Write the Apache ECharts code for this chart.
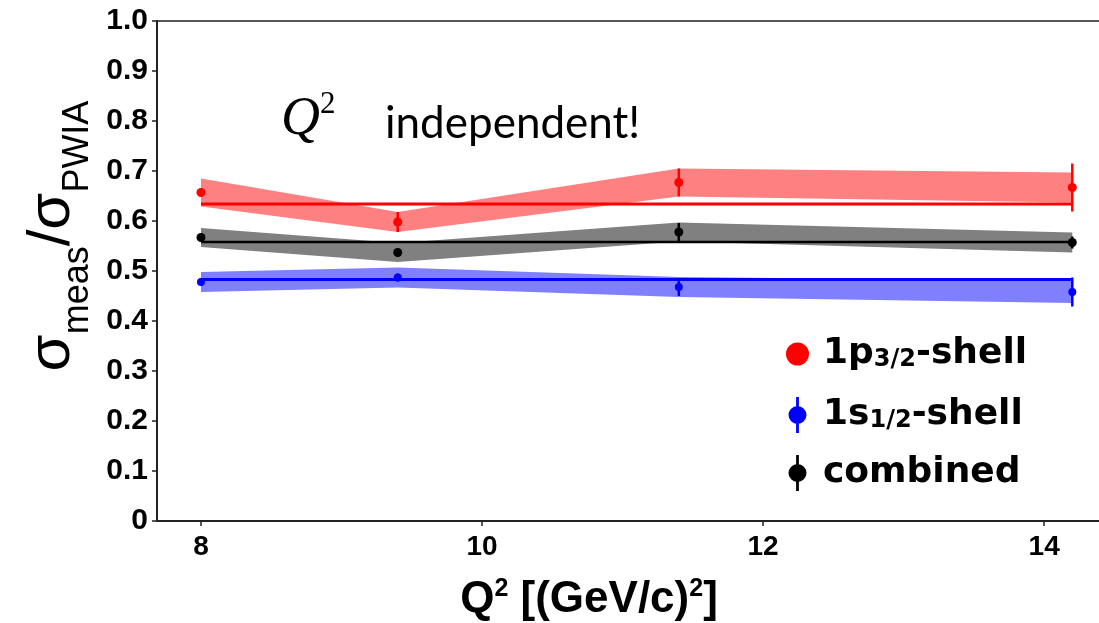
<!DOCTYPE html>
<html>
<head>
<meta charset="utf-8">
<script src="https://cdn.jsdelivr.net/npm/echarts@6/dist/echarts.min.js"></script>
<style>
  html, body { margin: 0; padding: 0; background: #fff; }
  #chart { width: 1099px; height: 623px; }
</style>
</head>
<body>
<div id="chart"></div>
<script>
// Q^2 settings, in (GeV/c)^2
const q2 = [8.0, 9.4, 11.4, 14.2];
const xTicks = [8, 10, 12, 14];
const yTicks = [0, 0.1, 0.2, 0.3, 0.4, 0.5, 0.6, 0.7, 0.8, 0.9, 1.0];

// sigma_meas / sigma_PWIA : value, statistical error, systematic half-band
const p32 = [0.657, 0.598, 0.677, 0.667];
const p32Stat = [0.008, 0.020, 0.028, 0.048];
const p32Sys = [0.028, 0.020, 0.028, 0.030];
const p32Avg = 0.634;

const s12 = [0.478, 0.487, 0.468, 0.458];
const s12Stat = [0.008, 0.008, 0.018, 0.029];
const s12Sys = [0.020, 0.020, 0.020, 0.022];
const s12Avg = 0.483;

const comb = [0.567, 0.537, 0.578, 0.557];
const combStat = [0.008, 0.008, 0.018, 0.012];
const combSys = [0.019, 0.019, 0.019, 0.020];
const combAvg = 0.558;

const names = ['1p3/2-shell', '1s1/2-shell', 'combined'];
const legendText = {
  '1p3/2-shell': '1p{sub|3/2}-shell',
  '1s1/2-shell': '1s{sub|1/2}-shell',
  'combined': 'combined'
};

const RED = '#ff0000', BLUE = '#0000ff', BLACK = '#000000';
const AXIS = '#222222';

// marker with a vertical error bar, used as a legend icon
const errIcon = 'path://M4.3,0H5.7V18H4.3Z M5,4.5A4.5,4.5,0,1,1,5,13.5A4.5,4.5,0,1,1,5,4.5Z';

function band(name, vals, sys, fill) {
  return {
    type: 'custom', name: name + ' sys', silent: true, z: 1,
    data: q2.map((x, i) => [x, vals[i] - sys[i], vals[i] + sys[i]]),
    renderItem: function (params, api) {
      if (params.dataIndex !== 0) return null;
      const top = q2.map((x, i) => api.coord([x, vals[i] + sys[i]]));
      const bot = q2.map((x, i) => api.coord([x, vals[i] - sys[i]])).reverse();
      return { type: 'polygon', shape: { points: top.concat(bot) }, style: { fill: fill } };
    }
  };
}

function fitLine(name, avg, color, width) {
  return {
    type: 'line', name: name + ' avg', silent: true, z: 2, symbol: 'none',
    data: [[q2[0], avg], [q2[q2.length - 1], avg]],
    lineStyle: { color: color, width: width }
  };
}

function errBars(name, vals, stat, color) {
  return {
    type: 'custom', name: name + ' stat', silent: true, z: 3,
    data: q2.map((x, i) => [x, vals[i] - stat[i], vals[i] + stat[i]]),
    renderItem: function (params, api) {
      const lo = api.coord([api.value(0), api.value(1)]);
      const hi = api.coord([api.value(0), api.value(2)]);
      return { type: 'line', shape: { x1: lo[0], y1: lo[1], x2: hi[0], y2: hi[1] },
               style: { stroke: color, lineWidth: 2.5 } };
    }
  };
}

function points(name, vals, color, size) {
  return {
    type: 'scatter', name: name, z: 4, symbol: 'circle', symbolSize: size,
    data: q2.map((x, i) => [x, vals[i]]),
    itemStyle: { color: color, opacity: 1 }
  };
}

const chart = echarts.init(document.getElementById('chart'), null, { renderer: 'canvas' });

const option = {
  animation: false,
  backgroundColor: '#ffffff',
  grid: { left: 157, right: 0, top: 21, bottom: 102, containLabel: false },
  xAxis: [{
    type: 'value', min: 7.687, max: 14.39,
    axisLine: { show: true, onZero: false, lineStyle: { color: AXIS, width: 2 } },
    axisTick: { show: true, customValues: xTicks, length: 5, lineStyle: { color: AXIS, width: 1.5 } },
    axisLabel: { customValues: xTicks, margin: 12, color: '#000', fontFamily: 'Liberation Sans',
                 fontWeight: 'bold', fontSize: 28 },
    splitLine: { show: false }
  }, {
    type: 'value', position: 'top', min: 7.687, max: 14.39,
    axisLine: { show: true, onZero: false, lineStyle: { color: AXIS, width: 1.5 } },
    axisTick: { show: false }, axisLabel: { show: false }, splitLine: { show: false }
  }],
  yAxis: {
    type: 'value', min: 0, max: 1, interval: 0.1,
    axisLine: { show: true, onZero: false, lineStyle: { color: AXIS, width: 2 } },
    axisTick: { show: true, length: 5, lineStyle: { color: AXIS, width: 1.5 } },
    axisLabel: {
      margin: 9, color: '#000', fontFamily: 'Liberation Sans', fontWeight: 'bold', fontSize: 30,
      customValues: yTicks,
      formatter: v => (v === 0 ? '0' : v.toFixed(1))
    },
    splitLine: { show: false }
  },
  legend: {
    orient: 'vertical', left: 781, top: 328, itemGap: 22, itemWidth: 23, itemHeight: 36,
    selectedMode: false,
    data: [
      { name: names[0], icon: 'circle' },
      { name: names[1], icon: errIcon },
      { name: names[2], icon: errIcon }
    ],
    formatter: n => legendText[n],
    textStyle: {
      color: '#000', fontFamily: 'DejaVu Sans', fontWeight: 'bold', fontSize: 36, lineHeight: 36,
      padding: [0, 0, 0, 9],
      rich: { sub: { fontFamily: 'DejaVu Sans', fontWeight: 'bold', fontSize: 24, color: '#000',
                     verticalAlign: 'bottom', lineHeight: 36, padding: [15, 0, 0, 0] } }
    }
  },
  graphic: [
    {
      type: 'text', x: 589, y: 600,
      style: {
        text: '{b|Q}{sup|2}{b| [(GeV/c)}{sup|2}{b|]}',
        align: 'center', verticalAlign: 'middle',
        rich: {
          b: { fontFamily: 'Liberation Sans', fontWeight: 'bold', fontSize: 44, fill: '#000', lineHeight: 46 },
          sup: { fontFamily: 'Liberation Sans', fontWeight: 'bold', fontSize: 25, fill: '#000',
                 verticalAlign: 'top', lineHeight: 46, padding: [0, 0, 16, 0] }
        }
      }
    },
    {
      type: 'text', x: 60, y: 236, rotation: Math.PI / 2,
      style: {
        text: '{m|σ}{s|meas}{m|/σ}{s|PWIA}',
        align: 'center', verticalAlign: 'middle',
        rich: {
          m: { fontFamily: 'Liberation Sans', fontSize: 60, fill: '#000', lineHeight: 72, padding: [0, 0, 14, 0], verticalAlign: 'bottom' },
          s: { fontFamily: 'Liberation Sans', fontSize: 36, fill: '#000', lineHeight: 72, verticalAlign: 'bottom' }
        }
      }
    },
    {
      type: 'text', x: 281, y: 120,
      style: {
        text: '{q|Q}{p|2}',
        align: 'left', verticalAlign: 'middle',
        rich: {
          q: { fontFamily: 'Liberation Serif', fontStyle: 'italic', fontSize: 54, fill: '#000', lineHeight: 62 },
          p: { fontFamily: 'Liberation Serif', fontSize: 31, fill: '#000', verticalAlign: 'top', lineHeight: 62 }
        }
      }
    },
    {
      type: 'text', x: 385, y: 124,
      style: { text: 'independent!', fontFamily: 'Lato', fontSize: 44, fill: '#000',
               align: 'left', verticalAlign: 'middle' }
    }
  ],
  series: [
    band(names[0], p32, p32Sys, '#ff8080'),
    band(names[2], comb, combSys, '#808080'),
    band(names[1], s12, s12Sys, '#8080ff'),
    fitLine(names[0], p32Avg, RED, 3),
    fitLine(names[2], combAvg, BLACK, 2.5),
    fitLine(names[1], s12Avg, BLUE, 3),
    errBars(names[0], p32, p32Stat, RED),
    errBars(names[2], comb, combStat, BLACK),
    errBars(names[1], s12, s12Stat, BLUE),
    points(names[0], p32, RED, 9),
    points(names[1], s12, BLUE, 8),
    points(names[2], comb, BLACK, 9)
  ]
};

chart.setOption(option);
</script>
</body>
</html>
